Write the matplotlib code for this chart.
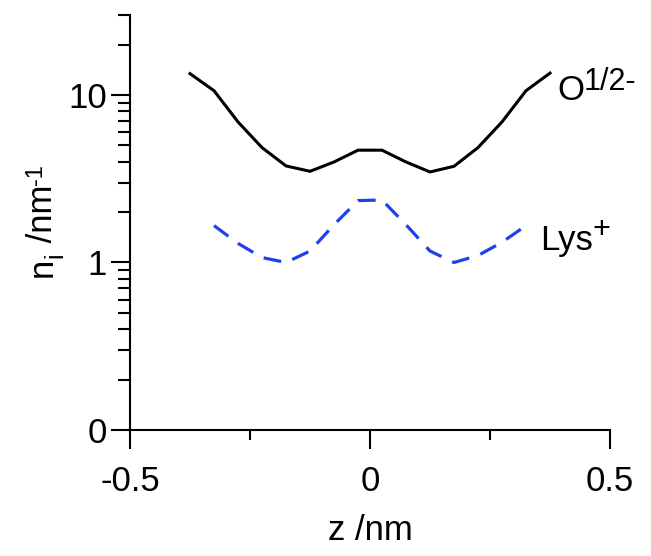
import matplotlib
matplotlib.use("Agg")
from matplotlib import pyplot as plt
from matplotlib.ticker import FixedLocator, LogLocator, NullFormatter
from matplotlib.transforms import IdentityTransform

plt.rcParams['font.family'] = ['Liberation Sans', 'DejaVu Sans']

# profile positions (nm)
z_o = [-0.375, -0.325, -0.275, -0.225, -0.175, -0.125, -0.075, -0.025,
       0.025, 0.075, 0.125, 0.175, 0.225, 0.275, 0.325, 0.375]
n_o = [13.4, 10.6, 6.9, 4.85, 3.77, 3.5, 3.98, 4.68,
       4.68, 3.98, 3.47, 3.75, 4.85, 6.9, 10.6, 13.5]

z_lys = [-0.325, -0.275, -0.225, -0.175, -0.125, -0.075, -0.025,
         0.025, 0.075, 0.125, 0.175, 0.225, 0.275, 0.325]
n_lys = [1.66, 1.3, 1.07, 1.0, 1.17, 1.68, 2.34,
         2.36, 1.68, 1.17, 1.0, 1.1, 1.32, 1.66]

ytick_vals = [0.1, 1, 10]
ytick_labels = ['0', '1', '10']
xtick_vals = [-0.5, 0, 0.5]
xtick_labels = ['-0.5', '0', '0.5']

W, H = 651, 556
fig = plt.figure(figsize=(W / 100, H / 100), dpi=100)
ax = fig.add_axes([130 / W, 1 - 430 / H, 480 / W, 415 / H])

ax.plot(z_o, n_o, color='black', lw=2.2, solid_joinstyle='miter')
ax.plot(z_lys, n_lys, color='#2040f0', lw=2.3, dashes=(5.6, 3.7))

ax.set_yscale('log')
ax.set_ylim(0.1, 30)
ax.set_xlim(-0.5, 0.5)

ax.yaxis.set_major_locator(FixedLocator(ytick_vals))
ax.set_yticklabels(ytick_labels)
ax.yaxis.set_minor_locator(LogLocator(base=10, subs=range(2, 10)))
ax.yaxis.set_minor_formatter(NullFormatter())

ax.set_xticks(xtick_vals)
ax.set_xticklabels(xtick_labels)
ax.set_xticks([-0.25, 0.25], minor=True)

for s in ['top', 'right']:
    ax.spines[s].set_visible(False)
for s in ['left', 'bottom']:
    ax.spines[s].set_linewidth(1.5)

ax.tick_params(axis='y', which='major', direction='out', length=14, width=1.5,
               labelsize=25, pad=2.5)
ax.tick_params(axis='y', which='minor', direction='out', length=8.5, width=1.5)
ax.tick_params(axis='x', which='major', direction='out', length=13.5, width=1.5,
               labelsize=25, pad=12)
ax.tick_params(axis='x', which='minor', direction='out', length=7, width=1.5)


def rich(pieces, x, y, rotation=0):
    # lay out (text, size, raise_px) pieces one after another, x/y in pixels from top-left
    r = fig.canvas.get_renderer()
    x, y = x, H - y
    for s, size, shift in pieces:
        if rotation == 0:
            t = fig.text(x, y + shift, s, transform=IdentityTransform(), fontsize=size,
                         ha='left', va='baseline')
            x += t.get_window_extent(r).width
        else:
            t = fig.text(x - shift, y, s, transform=IdentityTransform(), fontsize=size,
                         ha='left', va='baseline', rotation=90, rotation_mode='anchor')
            y += t.get_window_extent(r).height


fig.text(370, H - 540, 'z /nm', transform=IdentityTransform(), fontsize=25,
         ha='center', va='baseline')
rich([('n', 25, 0), ('i', 18, -10), (' /nm', 25, 0), ('-1', 17, 10)], 52, 277, rotation=90)
rich([('O', 25, 0), ('1/2-', 22, 10)], 557, 100)
rich([('Lys', 25, 0), ('+', 22, 12)], 540, 250)

fig.savefig('out.png', dpi=100)
